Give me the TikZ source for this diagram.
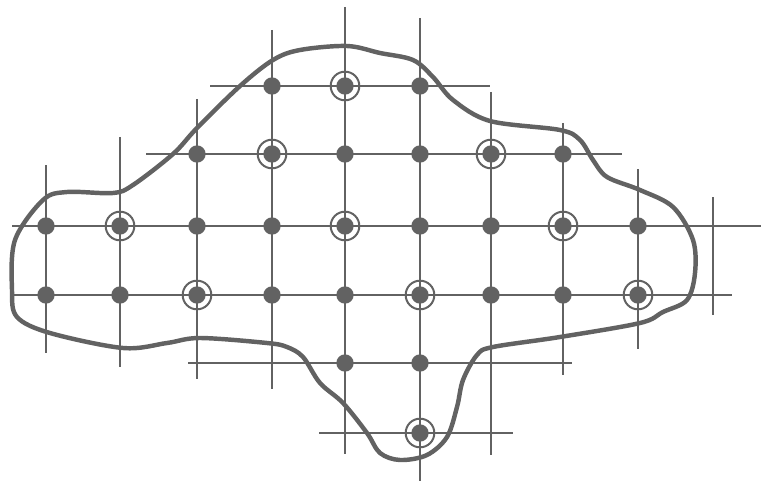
\documentclass[tikz,border=0pt]{standalone}
\definecolor{ink}{RGB}{98,98,98}
\tikzset{
  gridline/.style={ink,line width=1.6pt},
  site/.style={circle,fill=ink,inner sep=0pt,minimum size=0.52cm},
  ring/.style={circle,draw=ink,line width=1.7pt,inner sep=0pt,minimum size=0.86cm},
  outline/.style={ink,line width=3.8pt,line join=round}
}
\begin{document}
\begin{tikzpicture}[x=0.03cm,y=-0.03cm]
  \useasboundingbox (0,0) rectangle (761,481);
  % grid lines
  \foreach \y/\xa/\xb in {86/210/490, 154/146/622, 226/12/761, 295/12/732, 363/188/572, 433/319/513}
    \draw[gridline] (\xa,\y) -- (\xb,\y);
  \foreach \x/\ya/\yb in {46/165/353, 120/137/367, 197/99/379, 272/30/389, 345/7/454, 420/18/481, 491/92/455, 563/123/375, 638/169/349, 713/197/315}
    \draw[gridline] (\x,\ya) -- (\x,\yb);
  % boundary
  \draw[outline] plot[smooth cycle,tension=0.55] coordinates {
    (15,240) (43,200) (67,192) (113,193) (133,185) (173,154) (197,128)
    (240,86) (273,60) (300,50) (347,46) (380,53) (413,60)
    (433,77) (453,100) (490,121) (560,130) (580,140) (593,160) (607,177)
    (640,190) (673,207) (693,240) (695,273) (687,300) (663,312) (640,323)
    (560,337) (493,347) (477,355) (463,380) (457,407) (447,437) (427,455)
    (400,460) (380,453) (367,433) (343,403) (320,383) (303,357) (287,347)
    (267,343) (200,338) (167,343) (123,348) (50,333) (17,317) (12,290)};
  % sites
  \foreach \x/\y in {272/86, 345/86, 420/86,
      197/154, 272/154, 345/154, 420/154, 491/154, 563/154,
      46/226, 120/226, 197/226, 272/226, 345/226, 420/226, 491/226, 563/226, 638/226,
      46/295, 120/295, 197/295, 272/295, 345/295, 420/295, 491/295, 563/295, 638/295,
      345/363, 420/363, 420/433}
    \node[site] (s-\x-\y) at (\x,\y) {};
  % chosen sites
  \foreach \x/\y in {345/86, 272/154, 491/154, 120/226, 345/226, 563/226,
      197/295, 420/295, 638/295, 420/433}
    \node[ring] (r-\x-\y) at (\x,\y) {};
\end{tikzpicture}
\end{document}
